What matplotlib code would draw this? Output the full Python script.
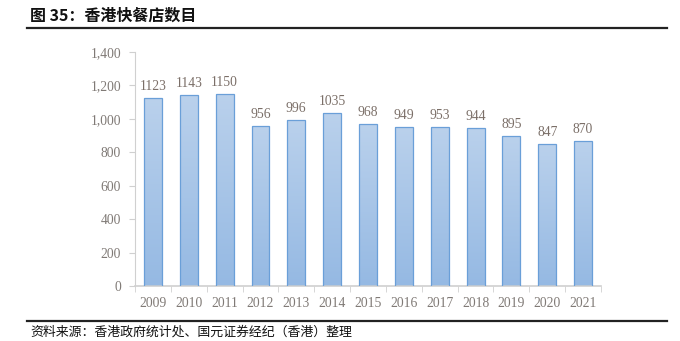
import matplotlib.pyplot as plt
import numpy as np
from matplotlib.colors import LinearSegmentedColormap
from matplotlib.lines import Line2D

years = ["2009", "2010", "2011", "2012", "2013", "2014", "2015",
         "2016", "2017", "2018", "2019", "2020", "2021"]
counts = [1123, 1143, 1150, 956, 996, 1035, 968, 949, 953, 944, 895, 847, 870]
y_ticks = [0, 200, 400, 600, 800, 1000, 1200, 1400]
y_tick_labels = ["0", "200", "400", "600", "800", "1,000", "1,200", "1,400"]

title = "图 35：香港快餐店数目"
source = "资料来源：香港政府统计处、国元证券经纪（香港）整理"

CJK = ["Noto Sans CJK SC", "DejaVu Sans"]
SERIF = "Liberation Serif"
LABEL_COLOR = "#7b6f68"
TICK_COLOR = "#807a76"
AXIS_COLOR = "#d0d0d0"

fig = plt.figure(figsize=(6.8, 3.41), dpi=100)
ax = fig.add_axes([135 / 680, 1 - 286 / 341, 466 / 680, 234 / 341])

# light-to-deeper blue fill, running top to bottom of each bar
cmap = LinearSegmentedColormap.from_list("barfill", ["#95b9e3", "#bad1ec"])
grad = np.linspace(0, 1, 256).reshape(-1, 1)

width = 0.5
x = np.arange(len(years))
bars = ax.bar(x, counts, width=width, color="none", edgecolor="#6a9fd8",
              linewidth=0.9, zorder=3)
for rect, val in zip(bars, counts):
    x0 = rect.get_x()
    im = ax.imshow(grad, cmap=cmap, aspect="auto", origin="lower",
                   extent=(x0, x0 + width, 0, val), zorder=2)
    im.set_clip_path(rect)
    ax.text(rect.get_x() + width / 2, val + 30, str(val), ha="center",
            va="bottom", fontsize=9.8, family=SERIF, color=LABEL_COLOR)

ax.set_xlim(-0.5, len(years) - 0.5)
ax.set_ylim(0, 1400)

ax.set_yticks(y_ticks)
ax.set_yticklabels(y_tick_labels, family=SERIF, fontsize=9.8, color=TICK_COLOR)
ax.set_xticks(x)
ax.set_xticklabels(years, family=SERIF, fontsize=9.8, color=TICK_COLOR)
ax.tick_params(axis="x", length=0, pad=8)
ax.tick_params(axis="y", length=4, color=AXIS_COLOR, pad=6)
ax.set_xticks(np.arange(-0.5, len(years), 1.0), minor=True)
ax.tick_params(axis="x", which="minor", length=4, color=AXIS_COLOR)

for side in ("top", "right"):
    ax.spines[side].set_visible(False)
ax.spines["left"].set_color(AXIS_COLOR)
ax.spines["bottom"].set_color(AXIS_COLOR)
ax.spines["bottom"].set_linewidth(1.2)

# header and footer rules
fig.add_artist(Line2D([27 / 680, 667 / 680], [1 - 28 / 341] * 2,
                      color="#222222", linewidth=1.6))
fig.add_artist(Line2D([27 / 680, 667 / 680], [1 - 321 / 341] * 2,
                      color="#222222", linewidth=1.6))

fig.text(30 / 680, 1 - 16 / 341, title, family=CJK, fontsize=11.5,
         fontweight="bold", va="center", ha="left", color="#111111")
fig.text(30 / 680, 1 - 332 / 341, source, family=CJK, fontsize=9.3,
         va="center", ha="left", color="#111111")

fig.savefig("out.png", dpi=100)
